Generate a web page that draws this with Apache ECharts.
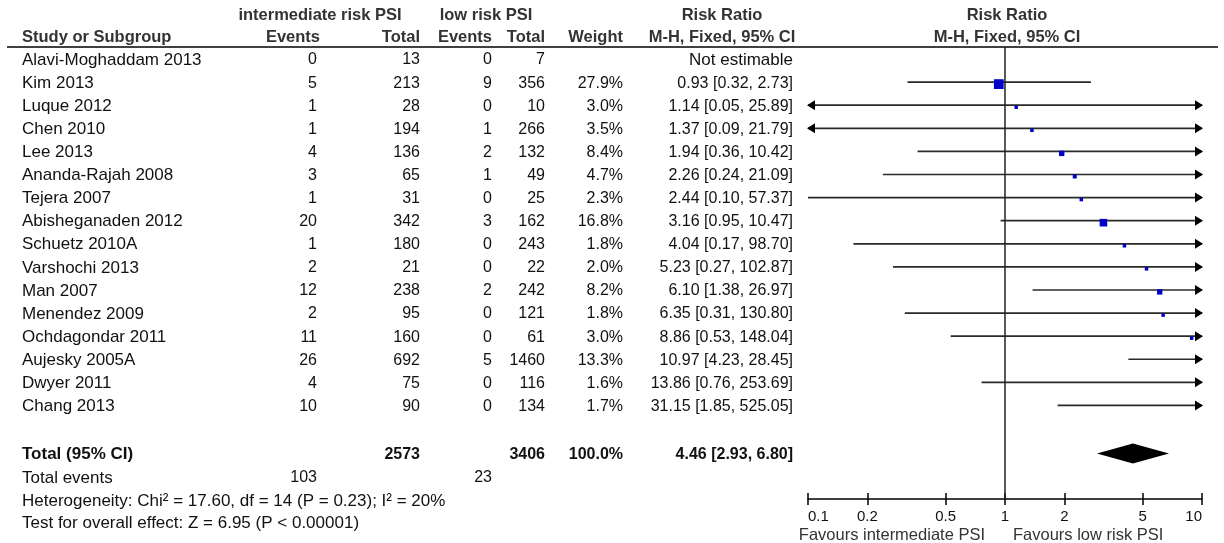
<!DOCTYPE html>
<html>
<head>
<meta charset="utf-8">
<script src="https://cdn.jsdelivr.net/npm/echarts@6/dist/echarts.min.js"></script>
<style>
html, body { margin: 0; padding: 0; background: #fff; }
#chart-container { width: 1224px; height: 543px; }
</style>
</head>
<body>
<div id="chart-container"></div>
<script>
// data
let studies = ['Alavi-Moghaddam 2013', 'Kim 2013', 'Luque 2012', 'Chen 2010', 'Lee 2013', 'Ananda-Rajah 2008',
  'Tejera 2007', 'Abisheganaden 2012', 'Schuetz 2010A', 'Varshochi 2013', 'Man 2007', 'Menendez 2009',
  'Ochdagondar 2011', 'Aujesky 2005A', 'Dwyer 2011', 'Chang 2013']
let intEvents = [0, 5, 1, 1, 4, 3, 1, 20, 1, 2, 12, 2, 11, 26, 4, 10]
let intTotal = [13, 213, 28, 194, 136, 65, 31, 342, 180, 21, 238, 95, 160, 692, 75, 90]
let lowEvents = [0, 9, 0, 1, 2, 1, 0, 3, 0, 0, 2, 0, 0, 5, 0, 0]
let lowTotal = [7, 356, 10, 266, 132, 49, 25, 162, 243, 22, 242, 121, 61, 1460, 116, 134]
let weights = [null, 27.9, 3.0, 3.5, 8.4, 4.7, 2.3, 16.8, 1.8, 2.0, 8.2, 1.8, 3.0, 13.3, 1.6, 1.7]
let ratios = [null, 0.93, 1.14, 1.37, 1.94, 2.26, 2.44, 3.16, 4.04, 5.23, 6.10, 6.35, 8.86, 10.97, 13.86, 31.15]
let ciLow = [null, 0.32, 0.05, 0.09, 0.36, 0.24, 0.10, 0.95, 0.17, 0.27, 1.38, 0.31, 0.53, 4.23, 0.76, 1.85]
let ciHigh = [null, 2.73, 25.89, 21.79, 10.42, 21.09, 57.37, 10.47, 98.70, 102.87, 26.97, 130.80, 148.04, 28.45, 253.69, 525.05]

let pooled = [4.46, 2.93, 6.80]
let totalInt = 2573
let totalLow = 3406
let eventsInt = 103
let eventsLow = 23
let heterogeneity = 'Heterogeneity: Chi\u00b2 = 17.60, df = 14 (P = 0.23); I\u00b2 = 20%'
let overall = 'Test for overall effect: Z = 6.95 (P < 0.00001)'

let ticks = [0.1, 0.2, 0.5, 1, 2, 5, 10]
let tickLabels = ['0.1', '0.2', '0.5', '1', '2', '5', '10']

// layout
let FONT = '"Liberation Sans", Arial, sans-serif'
let col = { name: 22, intEv: 317, intTot: 420, lowEv: 492, lowTot: 545, weight: 623, rr: 793, rrHead: 722, plotHead: 1007 }
let yMin = -0.52, yMax = 19.05
let rowHead1 = -1.93, rowHead2 = -0.97
let rowTotal = 17.08, rowEvents = 18.1, rowHet = 19.09, rowTest = 20.08, rowFav = 20.57
let WORD = 17, NUM = 16, HEAD = 16.5

function txt(p, s, align, opts) {
  opts = opts || {}
  return {
    type: 'text',
    style: {
      text: String(s), x: p[0], y: p[1] + 1,
      align: align, verticalAlign: 'middle',
      fill: opts.color || '#111',
      fontSize: opts.size || NUM,
      fontWeight: opts.bold ? 'bold' : 'normal',
      fontFamily: FONT
    }
  }
}

function fmtRR(r, l, h) {
  return r.toFixed(2) + ' [' + l.toFixed(2) + ', ' + h.toFixed(2) + ']'
}

let dom = document.getElementById('chart-container')
let myChart = echarts.init(dom, null, { renderer: 'canvas' })

// table text
let tableSeries = {
  type: 'custom',
  xAxisIndex: 0, yAxisIndex: 0,
  clip: false,
  silent: true,
  data: studies.map((s, i) => [i]),
  renderItem: function (params, api) {
    let i = api.value(0)
    let at = x => api.coord([x, i])
    let kids = [
      txt(at(col.name), studies[i], 'left', { size: WORD }),
      txt(at(col.intEv), intEvents[i], 'right'),
      txt(at(col.intTot), intTotal[i], 'right'),
      txt(at(col.lowEv), lowEvents[i], 'right'),
      txt(at(col.lowTot), lowTotal[i], 'right')
    ]
    if (weights[i] != null) kids.push(txt(at(col.weight), weights[i].toFixed(1) + '%', 'right'))
    if (ratios[i] == null) kids.push(txt(at(col.rr), 'Not estimable', 'right', { size: WORD }))
    else kids.push(txt(at(col.rr), fmtRR(ratios[i], ciLow[i], ciHigh[i]), 'right'))
    return { type: 'group', children: kids }
  }
}

// headers, totals, footnotes
let extraSeries = {
  type: 'custom',
  xAxisIndex: 0, yAxisIndex: 0,
  clip: false,
  silent: true,
  data: [[0]],
  renderItem: function (params, api) {
    let at = (x, r) => api.coord([x, r])
    let h = { bold: true, color: '#333', size: HEAD }
    let b = { bold: true }
    let bw = { bold: true, size: WORD }
    let p0 = at(7, yMin), p1 = at(1218, yMin)
    return {
      type: 'group',
      children: [
        txt(at(320, rowHead1), 'intermediate risk PSI', 'center', h),
        txt(at(486, rowHead1), 'low risk PSI', 'center', h),
        txt(at(col.rrHead, rowHead1), 'Risk Ratio', 'center', h),
        txt(at(col.plotHead, rowHead1), 'Risk Ratio', 'center', h),
        txt(at(col.name, rowHead2), 'Study or Subgroup', 'left', h),
        txt(at(col.intEv + 3, rowHead2), 'Events', 'right', h),
        txt(at(col.intTot, rowHead2), 'Total', 'right', h),
        txt(at(col.lowEv, rowHead2), 'Events', 'right', h),
        txt(at(col.lowTot, rowHead2), 'Total', 'right', h),
        txt(at(col.weight, rowHead2), 'Weight', 'right', h),
        txt(at(col.rrHead, rowHead2), 'M-H, Fixed, 95% CI', 'center', h),
        txt(at(col.plotHead, rowHead2), 'M-H, Fixed, 95% CI', 'center', h),
        { type: 'line', shape: { x1: p0[0], y1: p0[1], x2: p1[0], y2: p1[1] }, style: { stroke: '#000', lineWidth: 1.5 } },
        txt(at(col.name, rowTotal), 'Total (95% CI)', 'left', bw),
        txt(at(col.intTot, rowTotal), totalInt, 'right', b),
        txt(at(col.lowTot, rowTotal), totalLow, 'right', b),
        txt(at(col.weight, rowTotal), '100.0%', 'right', b),
        txt(at(col.rr, rowTotal), fmtRR(pooled[0], pooled[1], pooled[2]), 'right', b),
        txt(at(col.name, rowEvents), 'Total events', 'left', { size: WORD }),
        txt(at(col.intEv, rowEvents), eventsInt, 'right'),
        txt(at(col.lowEv, rowEvents), eventsLow, 'right'),
        txt(at(col.name, rowHet), heterogeneity, 'left', { size: WORD }),
        txt(at(col.name, rowTest), overall, 'left', { size: WORD })
      ]
    }
  }
}

// study CIs and point estimates on the log axis
let forestData = []
for (let i = 0; i < studies.length; i++) {
  if (ratios[i] == null) continue
  forestData.push([i, Math.log10(ratios[i]), Math.log10(ciLow[i]), Math.log10(ciHigh[i]), weights[i]])
}

let forestSeries = {
  type: 'custom',
  xAxisIndex: 1, yAxisIndex: 1,
  clip: false,
  silent: true,
  dimensions: ['row', 'est', 'lo', 'hi', 'w'],
  encode: { x: [1, 2, 3], y: 0 },
  data: forestData,
  renderItem: function (params, api) {
    let row = api.value(0), est = api.value(1), lo = api.value(2), hi = api.value(3), w = api.value(4)
    let a = api.coord([Math.max(lo, -1), row])
    let b = api.coord([Math.min(hi, 1), row])
    let kids = [{ type: 'line', shape: { x1: a[0], y1: a[1], x2: b[0], y2: b[1] }, style: { stroke: '#2a2a2a', lineWidth: 1.7 } }]
    if (lo < -1) {
      kids.push({ type: 'polygon', shape: { points: [[a[0] - 1, a[1]], [a[0] + 7, a[1] - 5], [a[0] + 7, a[1] + 5]] }, style: { fill: '#000' } })
    }
    if (hi > 1) {
      kids.push({ type: 'polygon', shape: { points: [[b[0] + 1, b[1]], [b[0] - 7, b[1] - 5], [b[0] - 7, b[1] + 5]] }, style: { fill: '#000' } })
    }
    if (est >= -1 && est <= 1) {
      let c = api.coord([est, row])
      let s = Math.max(3.5, 1.85 * Math.sqrt(w))
      kids.push({ type: 'rect', shape: { x: c[0] - s / 2, y: c[1] + 2 - s / 2, width: s, height: s }, style: { fill: '#0000c8' } })
    }
    return { type: 'group', children: kids }
  }
}

let pooledSeries = {
  type: 'custom',
  xAxisIndex: 1, yAxisIndex: 1,
  clip: false,
  silent: true,
  encode: { x: [1, 2, 3], y: 0 },
  data: [[rowTotal, Math.log10(pooled[0]), Math.log10(pooled[1]), Math.log10(pooled[2])]],
  renderItem: function (params, api) {
    let row = api.value(0)
    let c = api.coord([api.value(1), row]), l = api.coord([api.value(2), row]), r = api.coord([api.value(3), row])
    let top = api.coord([0, yMin]), bot = api.coord([0, yMax])
    let fa = api.coord([0, rowFav])
    let fs = { color: '#333', size: 16.5 }
    return {
      type: 'group',
      children: [
        { type: 'line', shape: { x1: top[0], y1: top[1], x2: bot[0], y2: bot[1] }, style: { stroke: '#222', lineWidth: 1.5 } },
        { type: 'polygon', shape: { points: [[l[0], l[1]], [c[0], c[1] - 10], [r[0], r[1]], [c[0], c[1] + 10]] }, style: { fill: '#000' } },
        txt([fa[0] - 20, fa[1]], 'Favours intermediate PSI', 'right', fs),
        txt([fa[0] + 8, fa[1]], 'Favours low risk PSI', 'left', fs)
      ]
    }
  }
}

let logTicks = ticks.map(t => Math.log10(t))
function tickText(v) {
  for (let k = 0; k < logTicks.length; k++) {
    if (Math.abs(logTicks[k] - v) < 1e-6) return tickLabels[k]
  }
  return ''
}

let plotHeight = 543 - 47 - 44

let option = {
  animation: false,
  grid: [
    { left: 0, right: 0, top: 47, bottom: 44 },
    { left: 808, width: 394, top: 47, bottom: 44 }
  ],
  xAxis: [
    { gridIndex: 0, type: 'value', min: 0, max: 1224, show: false },
    {
      gridIndex: 1, type: 'value', min: -1, max: 1, position: 'bottom',
      axisLine: { show: true, onZero: false, lineStyle: { color: '#000', width: 1.5 } },
      axisTick: { show: true, customValues: logTicks, length: 6, lineStyle: { color: '#000', width: 1.5 } },
      axisLabel: {
        show: true, customValues: logTicks, formatter: tickText, margin: 10,
        fontSize: 15, color: '#111', fontFamily: FONT,
        alignMinLabel: 'left', alignMaxLabel: 'right'
      },
      splitLine: { show: false }
    },
    {
      // upper half of the ticks: a top axis shifted down onto the bottom edge
      gridIndex: 1, type: 'value', min: -1, max: 1, position: 'top', offset: -plotHeight,
      axisLine: { show: false, onZero: false },
      axisTick: { show: true, customValues: logTicks, length: 6, lineStyle: { color: '#000', width: 1.5 } },
      axisLabel: { show: false },
      splitLine: { show: false }
    }
  ],
  yAxis: [
    { gridIndex: 0, type: 'value', min: yMin, max: yMax, inverse: true, show: false },
    { gridIndex: 1, type: 'value', min: yMin, max: yMax, inverse: true, show: false }
  ],
  series: [tableSeries, extraSeries, forestSeries, pooledSeries]
}

myChart.setOption(option)
window.addEventListener('resize', myChart.resize)
</script>
</body>
</html>
